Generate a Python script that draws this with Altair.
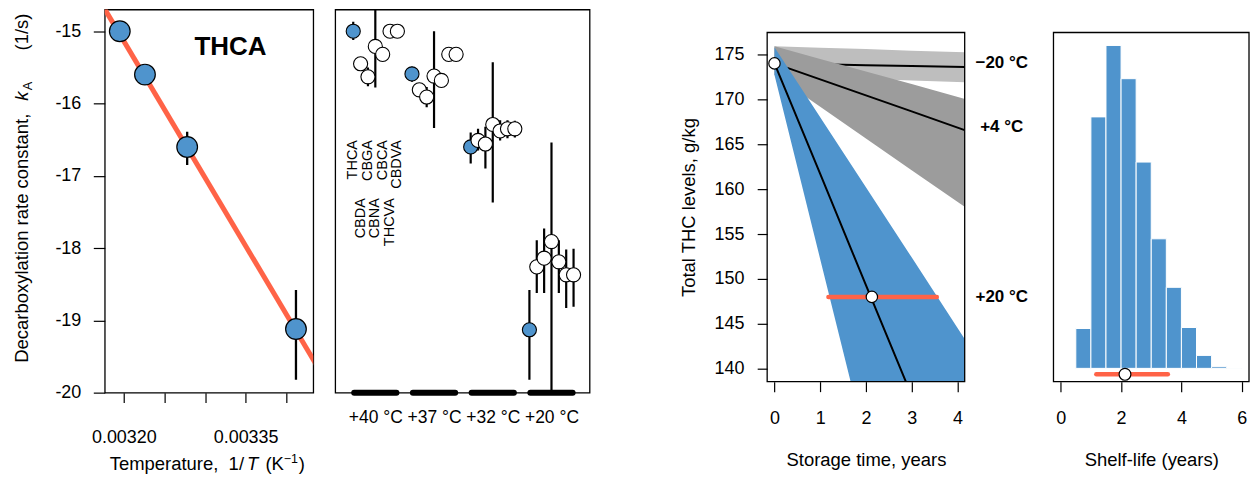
import json
import altair as alt
import pandas as pd

FONT = "Liberation Sans"
BLUE = "#4F94CD"
RED = "#FF6347"
LIGHT_GRAY = "#BEBEBE"
DARK_GRAY = "#9C9C9C"
NB = "\u00a0"

# ---------------- Panel A: Arrhenius plot (THCA) ----------------
inv_temp = [0.003195, 0.003226, 0.003278, 0.003412]
thca_lnk = [-15.0, -15.6, -16.6, -19.12]
thca_lnk_lo = [-15.12, -15.68, -16.85, -19.82]
thca_lnk_hi = [-14.88, -15.52, -16.39, -18.58]
fit_inv_temp = [0.00317, 0.00344]
fit_lnk = [-14.57, -19.67]
x_ticks_a = [0.00320, 0.00325, 0.00330, 0.00335, 0.00340]
x_labels_shown_a = ["0.00320", "0.00335"]
y_ticks_a = [-20, -19, -18, -17, -16, -15]

# ---------------- Panel B: rate constants of all acids ----------------
temps = ["+40 °C", "+37 °C", "+32 °C", "+20 °C"]
compounds = ["THCA", "CBDA", "CBGA", "CBNA", "CBCA", "THCVA", "CBDVA"]
lnk = {
    "THCA":  [-15.0, -15.59, -16.6, -19.13],
    "CBDA":  [-15.45, -15.81, -16.51, -18.26],
    "CBGA":  [-15.63, -15.91, -16.56, -18.14],
    "CBNA":  [-15.21, -15.62, -16.29, -17.91],
    "CBCA":  [-15.32, -15.68, -16.38, -18.19],
    "THCVA": [-15.0, -15.32, -16.35, -18.37],
    "CBDVA": [-15.0, -15.32, -16.35, -18.37],
}
lnk_lo = {
    "THCA":  [-15.12, -15.70, -16.83, -19.82],
    "CBDA":  [-15.53, -15.89, -16.65, -18.62],
    "CBGA":  [-15.76, -16.05, -16.90, -18.62],
    "CBNA":  [-15.78, -16.34, -17.37, -21.0],
    "CBCA":  [-15.40, -15.76, -16.51, -18.62],
    "THCVA": [-15.08, -15.40, -16.48, -18.83],
    "CBDVA": [-15.08, -15.40, -16.47, -18.81],
}
lnk_hi = {
    "THCA":  [-14.87, -15.49, -16.40, -18.58],
    "CBDA":  [-15.37, -15.73, -16.35, -17.89],
    "CBGA":  [-15.50, -15.77, -16.32, -17.73],
    "CBNA":  [-14.64, -15.00, -15.43, -16.54],
    "CBCA":  [-15.24, -15.60, -16.23, -17.89],
    "THCVA": [-14.92, -15.24, -16.23, -18.02],
    "CBDVA": [-14.92, -15.24, -16.24, -18.01],
}
label_row = [1, 2, 1, 2, 1, 2, 1]
label_row_top = {1: -16.505, 2: -17.31}
DODGE = 0.1253

# ---------------- Panel C: predicted total THC during storage ----------------
years = [0, 1, 2, 3, 4.2]
line_m20 = [174.0, 173.9, 173.8, 173.7, 173.6]
upper_m20 = [175.9, 175.75, 175.6, 175.4, 175.24]
lower_m20 = [172.7, 172.5, 172.3, 172.1, 171.9]
line_p4 = [174.0, 172.22, 170.44, 168.66, 166.5]
upper_p4 = [175.9, 174.5, 173.1, 171.7, 170.0]
lower_p4 = [172.7, 169.17, 165.64, 162.1, 157.9]
line_p20 = [174.0, 161.7, 149.3, 137.0, 122.2]
upper_p20 = [175.8, 168.0, 160.2, 152.4, 143.0]
lower_p20 = [172.7, 152.2, 131.7, 111.2, 86.6]
start_level = 174.0
limit_level = 148.0
shelf_life_median = 2.13
shelf_life_lo = 1.18
shelf_life_hi = 3.55
curve_labels = ["\u221220 °C", "+4 °C", "+20 °C"]
curve_label_y = [174.0, 166.9, 148.0]
curve_label_x = 4.97

# ---------------- Panel D: histogram of shelf-life ----------------
bin_lo = [0.5, 1.0, 1.5, 2.0, 2.5, 3.0, 3.5, 4.0, 4.5, 5.0, 5.5]
bin_hi = [1.0, 1.5, 2.0, 2.5, 3.0, 3.5, 4.0, 4.5, 5.0, 5.5, 6.0]
counts = [120, 757, 972, 872, 621, 390, 244, 123, 39, 5, 1]
marker_y_d = -18

# panel geometry (pixels); kept within the 1259 px window so that the page does not overflow
W_A, W_B, W_C, W_D = 209, 255, 198, 196
H_AB = 384
TOP_CD, H_CD = 23, 373   # plot area of C and D runs from y=23 to y=373 of their view
GAP = 22
SPACER_1 = 134
SPACER_2 = 45


def text_layer(txt, x, y, size=18.5, angle=0, align="left", baseline="alphabetic",
               weight="normal", style="normal"):
    return alt.Chart(pd.DataFrame({"t": [txt]})).mark_text(
        font=FONT, fontSize=size, angle=angle, align=align, baseline=baseline,
        fontWeight=weight, fontStyle=style, color="black"
    ).encode(text="t:N", x=alt.value(x), y=alt.value(y))


def frame(width, top, bottom):
    return alt.Chart(pd.DataFrame({"f": [0]})).mark_rect(
        fillOpacity=0, stroke="black", strokeWidth=1.3
    ).encode(x=alt.value(0), x2=alt.value(width), y=alt.value(top), y2=alt.value(bottom))


# ================= Panel A =================
df_a = pd.DataFrame({"x": inv_temp, "y": thca_lnk, "lo": thca_lnk_lo, "hi": thca_lnk_hi})
df_fit = pd.DataFrame({"x": fit_inv_temp, "y": fit_lnk})
xs_a = alt.Scale(domain=[0.0031765, 0.0034333], nice=False, zero=False)
ys_a = alt.Scale(domain=[-20, -14.7], nice=False, zero=False)
shown = json.dumps(x_labels_shown_a)
x_axis_a = alt.Axis(values=x_ticks_a, title=None, tickSize=10, labelPadding=25.5,
                    labelExpr=f"indexof({shown}, format(datum.value, '.5f')) >= 0 ? format(datum.value, '.5f') : ''")
y_axis_a = alt.Axis(values=y_ticks_a, title=None, tickSize=11.5, labelPadding=12.5,
                    labelExpr="'' + datum.value")

fit_a = alt.Chart(df_fit).mark_line(color=RED, strokeWidth=5, clip=True).encode(
    x=alt.X("x:Q", scale=xs_a, axis=x_axis_a),
    y=alt.Y("y:Q", scale=ys_a, axis=y_axis_a),
)
err_a = alt.Chart(df_a).mark_rule(color="black", strokeWidth=2.3, clip=True).encode(
    x=alt.X("x:Q", scale=xs_a), y=alt.Y("lo:Q", scale=ys_a), y2="hi:Q")
pts_a = alt.Chart(df_a).mark_circle(size=430, fill=BLUE, stroke="black", strokeWidth=1.2,
                                   opacity=1).encode(
    x=alt.X("x:Q", scale=xs_a), y=alt.Y("y:Q", scale=ys_a))

TY = 462  # baseline of the composed x title of panel A
panel_a = alt.layer(
    fit_a, err_a, pts_a,
    text_layer("THCA", 126, 46, size=26, align="center", weight="bold"),
    # y title: Decarboxylation rate constant,  k_A (1/s)
    text_layer("Decarboxylation rate constant,", -77.4, 354, angle=270),
    text_layer("k", -77.4, 91.5, angle=270, style="italic"),
    text_layer("A", -73.4, 81, size=13, angle=270),
    text_layer("(1/s)", -77.4, 41, angle=270),
    # x title: Temperature,  1/T (K^-1)
    text_layer(f"Temperature,{NB}{NB}1/", 5, TY),
    text_layer("T", 142.5, TY, style="italic"),
    text_layer("(K", 161, TY),
    text_layer("\u22121", 179.5, TY - 7, size=12.5),
    text_layer(")", 194.5, TY),
).properties(width=W_A, height=H_AB)

# ================= Panel B =================
rows = []
for j, c in enumerate(compounds):
    for g in range(len(temps)):
        rows.append({"compound": c, "order": j, "g": g, "x": g + (j - 3) * DODGE,
                     "y": lnk[c][g], "lo": lnk_lo[c][g], "hi": lnk_hi[c][g],
                     "isTHCA": c == "THCA"})
df_b = pd.DataFrame(rows)
df_groups = pd.DataFrame({"g": list(range(len(temps))), "temp": temps})
df_labels_b = pd.DataFrame({"compound": compounds,
                            "x": [(j - 3) * DODGE for j in range(len(compounds))],
                            "y": [label_row_top[r] for r in label_row]})

xs_b = alt.Scale(domain=[-0.683, 3.649], nice=False, zero=False)
ys_b = alt.Scale(domain=[-20, -14.7], nice=False, zero=False)
temps_js = json.dumps(temps, ensure_ascii=False)
x_axis_b = alt.Axis(values=list(range(len(temps))), title=None, ticks=False, tickSize=0,
                    labelPadding=16, labelFontSize=17.5,
                    labelExpr=f"{temps_js}[datum.value]")

err_b = alt.Chart(df_b).mark_rule(color="black", strokeWidth=2.2, clip=True).encode(
    x=alt.X("x:Q", scale=xs_b, axis=x_axis_b),
    y=alt.Y("lo:Q", scale=ys_b, axis=None), y2="hi:Q")
pts_b = alt.Chart(df_b).mark_circle(size=200, stroke="black", strokeWidth=1.1, opacity=1).encode(
    x=alt.X("x:Q", scale=xs_b), y=alt.Y("y:Q", scale=ys_b),
    fill=alt.condition("datum.isTHCA", alt.value(BLUE), alt.value("white")),
    order=alt.Order("order:Q"))
bars_b = alt.Chart(df_groups).transform_calculate(
    x1="datum.g - 0.36", x2="datum.g + 0.36", yb="-20"
).mark_rule(color="black", strokeWidth=6, strokeCap="round").encode(
    x=alt.X("x1:Q", scale=xs_b), x2="x2:Q", y=alt.Y("yb:Q", scale=ys_b))
lab_b = alt.Chart(df_labels_b).mark_text(font=FONT, fontSize=14.5, angle=270, align="right",
                                         baseline="middle", color="black").encode(
    x=alt.X("x:Q", scale=xs_b), y=alt.Y("y:Q", scale=ys_b), text="compound:N")

panel_b = alt.layer(err_b, pts_b, bars_b, lab_b).properties(width=W_B, height=H_AB)

# ================= Panel C =================
df_c = pd.DataFrame({"t": years,
                     "m20": line_m20, "m20u": upper_m20, "m20l": lower_m20,
                     "p4": line_p4, "p4u": upper_p4, "p4l": lower_p4,
                     "p20": line_p20, "p20u": upper_p20, "p20l": lower_p20})
xs_c = alt.Scale(domain=[-0.16, 4.16], nice=False, zero=False)
ys_c = alt.Scale(domain=[138.56, 177.44], nice=False, zero=False, range=[H_CD, TOP_CD])
x_axis_c = alt.Axis(values=[0, 1, 2, 3, 4], title="Storage time, years", tickSize=10,
                    labelPadding=17.5, titleY=84, titleBaseline="alphabetic")
y_axis_c = alt.Axis(values=[140, 145, 150, 155, 160, 165, 170, 175], title="Total THC levels, g/kg",
                    tickSize=10, labelPadding=13.3, titleX=-72.7, titleY=TOP_CD + 175,
                    titleAngle=270, titleBaseline="alphabetic", titleAlign="center")

base_c = alt.Chart(df_c)


def band(lo, hi, color, first=False):
    xenc = alt.X("t:Q", scale=xs_c, axis=x_axis_c) if first else alt.X("t:Q", scale=xs_c)
    yenc = alt.Y(f"{hi}:Q", scale=ys_c, axis=y_axis_c) if first else alt.Y(f"{hi}:Q", scale=ys_c)
    return base_c.mark_area(color=color, opacity=1, clip=True).encode(x=xenc, y=yenc, y2=f"{lo}:Q")


def curve(col):
    return base_c.mark_line(color="black", strokeWidth=2, clip=True).encode(
        x=alt.X("t:Q", scale=xs_c), y=alt.Y(f"{col}:Q", scale=ys_c))


df_seg = pd.DataFrame({"lo": [shelf_life_lo], "hi": [shelf_life_hi], "y": [limit_level]})
seg_c = alt.Chart(df_seg).mark_rule(color=RED, strokeWidth=4.5, strokeCap="round").encode(
    x=alt.X("lo:Q", scale=xs_c), x2="hi:Q", y=alt.Y("y:Q", scale=ys_c))
df_pts_c = pd.DataFrame({"t": [0, shelf_life_median], "y": [start_level, limit_level]})
pts_c = alt.Chart(df_pts_c).mark_circle(size=130, fill="white", stroke="black", strokeWidth=1.2,
                                        opacity=1).encode(
    x=alt.X("t:Q", scale=xs_c), y=alt.Y("y:Q", scale=ys_c))
df_lab_c = pd.DataFrame({"label": curve_labels, "y": curve_label_y,
                         "x": [curve_label_x] * len(curve_labels)})
lab_c = alt.Chart(df_lab_c).mark_text(font=FONT, fontSize=17, fontWeight="bold", align="center",
                                      baseline="middle", color="black").encode(
    x=alt.X("x:Q", scale=xs_c), y=alt.Y("y:Q", scale=ys_c), text="label:N")

panel_c = alt.layer(
    band("m20l", "m20u", LIGHT_GRAY, first=True), curve("m20"),
    band("p4l", "p4u", DARK_GRAY), curve("p4"),
    band("p20l", "p20u", BLUE), curve("p20"),
    seg_c, pts_c, lab_c, frame(W_C, TOP_CD, H_CD),
).properties(width=W_C, height=H_CD, view=alt.ViewBackground(stroke="transparent"))

# ================= Panel D =================
df_d = pd.DataFrame({"lo": bin_lo, "hi": bin_hi, "n": counts})
xs_d = alt.Scale(domain=[-0.24, 6.24], nice=False, zero=False)
ys_d = alt.Scale(domain=[-40, 1011], nice=False, zero=False, range=[H_CD, TOP_CD])
x_axis_d = alt.Axis(values=[0, 1, 2, 3, 4, 5, 6], title="Shelf-life (years)", tickSize=10,
                    labelPadding=17.5, titleY=84, titleBaseline="alphabetic")
hist_d = alt.Chart(df_d).transform_calculate(zero="0").mark_rect(
    color=BLUE, stroke="white", strokeWidth=1).encode(
    x=alt.X("lo:Q", scale=xs_d, axis=x_axis_d), x2="hi:Q",
    y=alt.Y("n:Q", scale=ys_d, axis=None), y2="zero:Q")
df_seg_d = pd.DataFrame({"lo": [shelf_life_lo], "hi": [shelf_life_hi], "y": [marker_y_d]})
seg_d = alt.Chart(df_seg_d).mark_rule(color=RED, strokeWidth=4.5, strokeCap="round").encode(
    x=alt.X("lo:Q", scale=xs_d), x2="hi:Q", y=alt.Y("y:Q", scale=ys_d))
df_pt_d = pd.DataFrame({"x": [shelf_life_median], "y": [marker_y_d]})
pt_d = alt.Chart(df_pt_d).mark_circle(size=140, fill="white", stroke="black", strokeWidth=1.2,
                                      opacity=1).encode(
    x=alt.X("x:Q", scale=xs_d), y=alt.Y("y:Q", scale=ys_d))
panel_d = alt.layer(hist_d, seg_d, pt_d, frame(W_D, TOP_CD, H_CD)).properties(
    width=W_D, height=H_CD, view=alt.ViewBackground(stroke="transparent"))


# ================= Layout =================
def spacer(width):
    return alt.Chart(pd.DataFrame({"v": [0]})).mark_point(opacity=0, size=1).encode(
        x=alt.value(width / 2), y=alt.value(50)
    ).properties(width=width, height=100, view=alt.ViewBackground(stroke="transparent"))


chart = alt.hconcat(
    panel_a, panel_b, spacer(SPACER_1), panel_c, spacer(SPACER_2), panel_d,
    spacing=GAP, bounds="flush"
).properties(
    padding={"left": 3, "top": 0, "right": 0, "bottom": 0}
).configure_view(
    stroke="black", strokeWidth=1.3
).configure_axis(
    domain=False, grid=False, labelFont=FONT, labelFontSize=18, labelColor="black",
    tickColor="black", tickWidth=1.2, titleFont=FONT, titleFontSize=18.5,
    titleFontWeight="normal", titleColor="black", labelFlush=False, labelOverlap=False,
    labelBound=False
)

chart.save("out.html", embed_options={"renderer": "svg", "actions": False})
